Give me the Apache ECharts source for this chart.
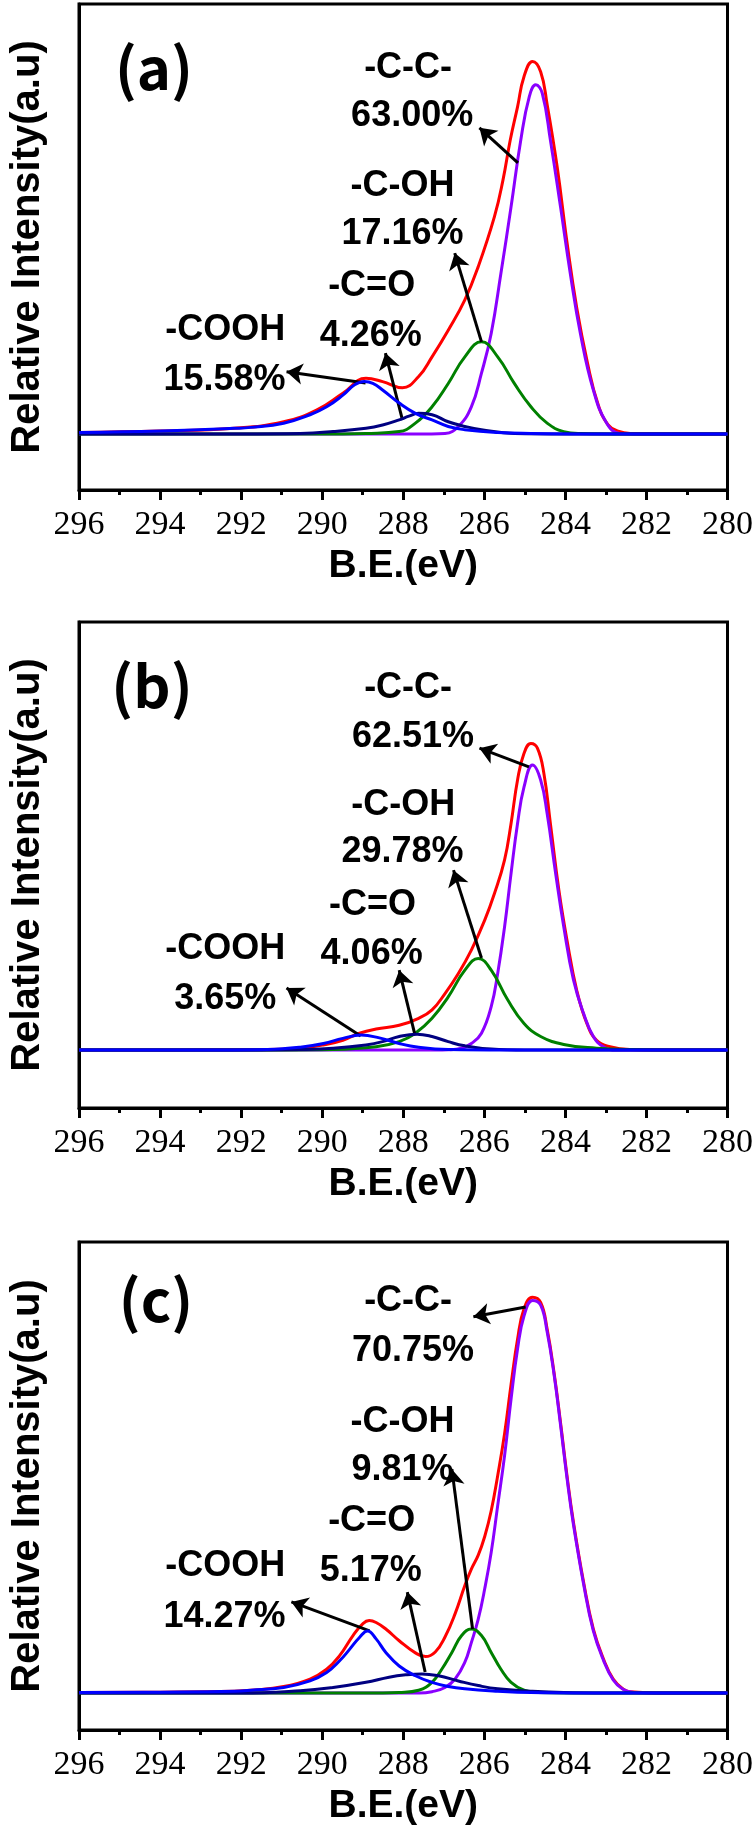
<!DOCTYPE html>
<html><head><meta charset="utf-8">
<script src="https://cdn.jsdelivr.net/npm/echarts@6/dist/echarts.min.js"></script>
<style>html,body{margin:0;padding:0;background:#fff}#c{width:756px;height:1827px}</style>
</head><body><div id="c"></div>
<script>
// ---------- data (B.E. in eV, relative intensity in a.u.) ----------
const xTickValues = [296, 294, 292, 290, 288, 286, 284, 282, 280];
const panelTags = ['(a)', '(b)', '(c)'];
const componentNames = ['Envelope', '-C-C-', '-C-OH', '-C=O', '-COOH'];

// panel (a)
const aEnvelope = [[296,0.3],[294,0.6],[292.17,1.2],[290.95,2.6],[290.14,5.1],[289.49,8.7],[288.92,11.9],[288.51,11.2],[288.02,9.9],[287.62,12.3],[287.29,16.5],[286.89,22.2],[286.48,28.7],[286.15,35.8],[285.75,46.5],[285.54,54.3],[285.36,62.9],[285.18,70.0],[285.02,76.5],[284.81,79.7],[284.61,77.5],[284.45,70.5],[284.2,57.0],[283.96,41.0],[283.72,27.0],[283.45,15.0],[283.2,6.5],[282.95,2.0],[282.7,0.6],[282.4,0.1],[281,0],[280,0]];
const aCC = [[296,0],[287.3,0],[286.97,0.1],[286.64,1.6],[286.32,5.8],[286.07,13.0],[285.83,21.5],[285.59,34.4],[285.34,48.6],[285.10,62.9],[284.89,72.2],[284.73,74.7],[284.57,72.9],[284.37,62.9],[284.12,48.6],[283.88,34.4],[283.63,21.5],[283.31,9.4],[282.98,2.3],[282.66,0.1],[282.3,0],[280,0]];
const aCOH = [[296,0],[289.5,0],[288.92,0.1],[288.10,0.5],[287.70,2.3],[287.29,5.8],[286.89,10.8],[286.48,16.5],[286.07,19.7],[285.67,16.5],[285.26,10.8],[284.85,5.8],[284.45,2.3],[284.04,0.5],[283.63,0.1],[282.5,0],[280,0]];
const aCO = [[296,0],[292,0],[290.54,0.1],[289.73,0.5],[288.92,1.2],[288.51,1.9],[288.10,3.0],[287.86,3.8],[287.62,4.4],[287.29,4.1],[286.89,2.6],[286.48,1.6],[286.07,0.9],[285.26,0.1],[284,0],[280,0]];
const aCOOH = [[296,0.3],[294,0.6],[292.17,1.2],[291.76,1.4],[290.95,2.3],[290.30,4.1],[289.89,5.8],[289.49,8.3],[289.20,10.5],[288.96,11.2],[288.75,10.8],[288.51,9.4],[288.10,6.6],[287.70,4.4],[287.29,3.0],[286.89,1.6],[286.48,0.9],[285.67,0.3],[284.85,0.1],[283.5,0],[280,0]];
const aPercents = ['63.00%', '17.16%', '4.26%', '15.58%'];

// panel (b)
const bEnvelope = [[296,0],[293,0.05],[291.36,0.1],[290.54,0.4],[289.97,1.1],[289.49,2.1],[289.08,3.6],[288.67,4.5],[288.10,5.3],[287.62,6.8],[287.29,8.6],[286.97,12.1],[286.64,16.4],[286.32,21.4],[285.99,27.8],[285.75,33.5],[285.50,40.7],[285.34,48.5],[285.18,57.8],[285.02,63.5],[284.85,65.6],[284.69,64.6],[284.53,59.2],[284.37,48.5],[284.16,34.2],[283.96,23.5],[283.72,12.8],[283.47,5.7],[283.23,2.1],[282.90,0.7],[282.41,0.1],[281,0],[280,0]];
const bCC = [[296,0],[287.2,0],[286.89,0.05],[286.56,0.4],[286.32,1.4],[286.07,3.6],[285.83,9.3],[285.67,16.4],[285.50,26.4],[285.34,37.8],[285.18,48.5],[285.02,56.3],[284.81,61.0],[284.61,57.8],[284.45,50.6],[284.24,37.8],[284.04,26.4],[283.80,15.0],[283.55,7.8],[283.31,2.9],[283.06,0.7],[282.74,0],[280,0]];
const bCOH = [[296,0],[291,0],[289.73,0.1],[288.67,0.7],[288.10,1.8],[287.70,3.6],[287.29,6.8],[286.89,11.4],[286.48,17.1],[286.15,19.6],[285.83,17.1],[285.42,10.7],[285.02,5.7],[284.61,2.9],[284.04,1.2],[283.23,0.4],[282.41,0.1],[281,0],[280,0]];
const bCO = [[296,0],[291.5,0],[290.54,0.1],[289.73,0.4],[288.92,1.1],[288.51,1.8],[288.10,2.9],[287.66,3.4],[287.29,2.9],[286.89,1.8],[286.48,0.9],[285.83,0.2],[285,0],[280,0]];
const bCOOH = [[296,0],[292.5,0],[291.36,0.1],[290.54,0.6],[289.97,1.4],[289.49,2.5],[289.04,3.2],[288.59,2.6],[288.10,1.4],[287.62,0.6],[286.89,0.1],[285.5,0],[280,0]];
const bPercents = ['62.51%', '29.78%', '4.06%', '3.65%'];

// panel (c)
const cEnvelope = [[296,0.1],[294,0.2],[292.17,0.4],[291.76,0.6],[290.95,1.4],[290.30,3.0],[289.89,5.1],[289.57,8.0],[289.24,12.3],[289.0,14.8],[288.84,15.5],[288.67,15.1],[288.43,13.7],[288.10,11.2],[287.70,8.6],[287.45,7.8],[287.21,8.8],[286.97,12.0],[286.72,17.0],[286.48,23.0],[286.32,26.5],[286.15,29.5],[285.99,33.5],[285.83,39.0],[285.67,46.5],[285.50,55.5],[285.34,66.0],[285.18,75.7],[285.02,82.2],[284.81,84.7],[284.61,83.6],[284.45,77.9],[284.28,68.6],[284.12,57.9],[283.96,46.5],[283.80,36.5],[283.55,23.7],[283.31,13.7],[283.06,7.3],[282.82,3.0],[282.58,0.9],[282.41,0.3],[281.5,0],[280,0]];
const cCC = [[296,0],[287.6,0],[287.29,0.3],[286.97,1.2],[286.72,3.0],[286.48,6.6],[286.32,10.8],[286.15,15.8],[285.99,22.3],[285.83,30.1],[285.67,40.1],[285.50,50.8],[285.34,62.9],[285.18,73.6],[285.02,80.7],[284.81,84.0],[284.61,83.0],[284.45,77.3],[284.28,68.2],[284.12,57.4],[283.96,46.0],[283.80,36.0],[283.55,23.3],[283.31,13.3],[283.06,7.0],[282.82,2.8],[282.58,0.8],[282.3,0.1],[281.5,0],[280,0]];
const cCOH = [[296,0],[288.5,0],[288.10,0.1],[287.62,0.6],[287.29,2.3],[287.05,5.1],[286.80,8.7],[286.56,12.3],[286.32,13.7],[286.07,12.3],[285.83,8.7],[285.59,5.1],[285.34,2.3],[285.02,0.6],[284.69,0.1],[284,0],[280,0]];
const cCO = [[296,0],[292,0],[290.54,0.5],[289.73,1.2],[288.92,2.3],[288.35,3.4],[287.94,3.9],[287.54,4.1],[287.13,3.7],[286.64,2.6],[286.15,1.6],[285.67,0.9],[284.85,0.4],[284.04,0.1],[283,0],[280,0]];
const cCOOH = [[296,0.1],[294,0.2],[292.17,0.4],[291.76,0.6],[290.95,1.2],[290.30,2.6],[289.89,4.4],[289.57,6.9],[289.32,9.4],[289.08,11.9],[288.88,13.3],[288.67,11.6],[288.43,8.7],[288.10,5.8],[287.70,3.7],[287.29,2.3],[286.89,1.4],[286.48,0.9],[285.67,0.4],[284.85,0.1],[283.5,0],[280,0]];
const cPercents = ['70.75%', '9.81%', '5.17%', '14.27%'];

// annotation anchors in data coordinates [eV, intensity]
// order: C-C name, C-C %, C-OH name, C-OH %, C=O name, C=O %, COOH name, COOH %
const aLabelAt = [[287.88,78.3],[287.78,68.1],[288.02,53.1],[288.02,42.8],[288.78,31.7],[288.80,21.0],[292.39,22.3],[292.41,11.6]];
const bLabelAt = [[287.88,77.5],[287.76,67.0],[288.00,52.4],[288.02,42.4],[288.76,31.0],[288.78,20.5],[292.39,21.6],[292.39,10.9]];
const cLabelAt = [[287.88,83.9],[287.76,73.2],[288.02,58.0],[288.02,47.7],[288.78,36.8],[288.80,26.1],[292.39,27.2],[292.41,16.3]];
const tagAt = [[294.15,78.4],[294.20,78.0],[294.10,84.0]];
// arrows: [from, to] (arrow head at "to")
const aArrows = [[[285.17,58.0],[286.12,65.5]],[[286.07,19.7],[286.73,38.7]],[[288.02,3.0],[288.44,17.3]],[[288.93,10.9],[290.88,13.3]]];
const bArrows = [[[284.90,60.6],[286.12,64.6]],[[286.07,19.7],[286.76,38.5]],[[287.71,3.2],[288.10,17.1]],[[289.05,3.0],[290.88,13.3]]];
const cArrows = [[[284.98,82.6],[286.27,80.5]],[[286.29,13.7],[286.80,47.9]],[[287.46,4.5],[287.90,21.6]],[[288.83,13.3],[290.76,19.5]]];

// ---------- layout & style ----------
const panels = [
  {curves:[aEnvelope,aCC,aCOH,aCO,aCOOH], pct:aPercents, labelAt:aLabelAt, arrows:aArrows, top:4,   height:486, yMin:-12,   yMax:92},
  {curves:[bEnvelope,bCC,bCOH,bCO,bCOOH], pct:bPercents, labelAt:bLabelAt, arrows:bArrows, top:622, height:486, yMin:-12.4, yMax:91.6},
  {curves:[cEnvelope,cCC,cCOH,cCO,cCOOH], pct:cPercents, labelAt:cLabelAt, arrows:cArrows, top:1242,height:488, yMin:-7.9,  yMax:96.5}
];
const colors = ['#ff0000', '#8a00ff', '#008000', '#000080', '#0000ff'];
const groupNames = ['-C-C-', '-C-OH', '-C=O', '-COOH'];
const serifFont = "'Liberation Serif', 'Times New Roman', 'DejaVu Serif', serif";
const sansFont = "'Liberation Sans', Arial, sans-serif";

const grids = [], xAxes = [], yAxes = [], series = [];
panels.forEach((p, i) => {
  grids.push({left:73, width:656, top:p.top, height:p.height, show:true, borderColor:'#000', borderWidth:3, backgroundColor:'transparent'});
  xAxes.push({
    type:'value', gridIndex:i, inverse:true, min:280, max:296, interval:2,
    axisLine:{show:true, onZero:false, lineStyle:{color:'#000', width:3}},
    axisTick:{show:true, inside:false, length:10, lineStyle:{color:'#000', width:3}},
    minorTick:{show:true, splitNumber:2, length:5, lineStyle:{color:'#000', width:3}},
    splitLine:{show:false}, minorSplitLine:{show:false},
    axisLabel:{show:true, color:'#000', fontFamily:serifFont, fontSize:34, margin:18,
      formatter: v => xTickValues.includes(v) ? String(v) : ''},
    name:'B.E.(eV)', nameLocation:'middle', nameGap:57,
    nameTextStyle:{color:'#000', fontFamily:sansFont, fontWeight:'bold', fontSize:39}
  });
  yAxes.push({
    type:'value', gridIndex:i, min:p.yMin, max:p.yMax,
    axisLine:{show:true, onZero:false, lineStyle:{color:'#000', width:3}},
    axisTick:{show:false}, axisLabel:{show:false}, splitLine:{show:false},
    name:'Relative Intensity(a.u)', nameLocation:'middle', nameGap:31, nameRotate:90,
    nameTextStyle:{color:'#000', fontFamily:sansFont, fontWeight:'bold', fontSize:40}
  });
  p.curves.forEach((d, k) => {
    const s = {
      type:'line', name:componentNames[k], xAxisIndex:i, yAxisIndex:i, data:d,
      smooth:0.45, symbol:'none', showSymbol:false, silent:true, clip:true,
      lineStyle:{color:colors[k], width:3}, z:2 + k
    };
    if (k === p.curves.length - 1) {
      const texts = [];
      groupNames.forEach((g, j) => {
        texts.push({name:g, coord:p.labelAt[2*j]});
        texts.push({name:p.pct[j], coord:p.labelAt[2*j+1]});
      });
      const lbl = {show:true, position:'inside', formatter:'{b}', color:'#000',
                   fontFamily:sansFont, fontWeight:'bold', fontSize:36};
      texts.forEach(t => { t.label = lbl; });
      texts.push({name:panelTags[i], coord:tagAt[i],
        label:{show:true, position:'inside', formatter:'{b}', color:'#000',
               fontFamily:"'Noto Sans CJK SC', sans-serif", fontWeight:'bold', fontSize:58}});
      s.markPoint = {symbol:'circle', symbolSize:1, silent:true, animation:false,
        itemStyle:{color:'rgba(0,0,0,0)'}, data:texts};
      s.markLine = {silent:true, animation:false, symbol:['none','arrow'], symbolSize:16,
        label:{show:false}, itemStyle:{color:'#000'}, lineStyle:{color:'#000', width:3, type:'solid'},
        emphasis:{disabled:true},
        data:p.arrows.map(a => [{coord:a[0]}, {coord:a[1]}])};
    }
    series.push(s);
  });
});

const chart = echarts.init(document.getElementById('c'), null, {renderer:'canvas'});
chart.setOption({animation:false, backgroundColor:'#fff', grid:grids, xAxis:xAxes, yAxis:yAxes, series:series});
</script>
</body></html>
